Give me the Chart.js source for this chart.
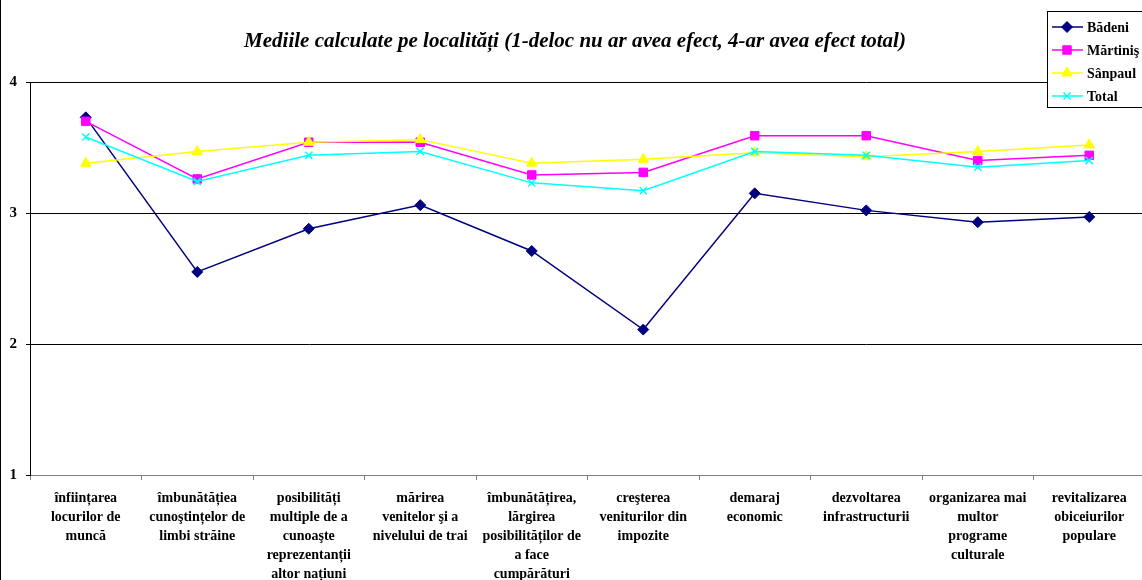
<!DOCTYPE html>
<html lang="ro">
<head>
<meta charset="UTF-8">
<title>Mediile calculate pe localități</title>
<script src="https://cdn.jsdelivr.net/npm/chart.js"></script>
<style>
    html, body { margin: 0; padding: 0; background: #fff; overflow: hidden; }
    #wrap { position: relative; width: 1152px; height: 580px; }
</style>
</head>
<body>
<div id="wrap"><canvas id="chart"></canvas></div>
<script>
// categorii (etichete pe mai multe randuri)
var categorii = [
    ['înființarea', 'locurilor de', 'muncă'],
    ['îmbunătățiea', 'cunoştințelor de', 'limbi străine'],
    ['posibilități', 'multiple de a', 'cunoaşte', 'reprezentanții', 'altor națiuni'],
    ['mărirea', 'venitelor şi a', 'nivelului de trai'],
    ['îmbunătățirea,', 'lărgirea', 'posibilităților de', 'a face', 'cumpărături'],
    ['creşterea', 'veniturilor din', 'impozite'],
    ['demaraj', 'economic'],
    ['dezvoltarea', 'infrastructurii'],
    ['organizarea mai', 'multor', 'programe', 'culturale'],
    ['revitalizarea', 'obiceiurilor', 'populare']
];

var badeni   = [3.73, 2.55, 2.88, 3.06, 2.71, 2.11, 3.15, 3.02, 2.93, 2.97];
var martinis = [3.70, 3.26, 3.54, 3.54, 3.29, 3.31, 3.59, 3.59, 3.40, 3.44];
var sanpaul  = [3.38, 3.47, 3.54, 3.56, 3.38, 3.41, 3.46, 3.43, 3.47, 3.52];
var total    = [3.58, 3.24, 3.44, 3.47, 3.23, 3.17, 3.47, 3.44, 3.35, 3.40];

var yTicks = [1, 2, 3, 4];

var titlu = 'Mediile calculate pe localități (1-deloc nu ar avea efect, 4-ar avea efect total)';

var serif = '"Liberation Serif", "Times New Roman", serif';

// titlu, chenar si legenda desenate direct pe canvas
var decor = {
    id: 'decor',
    afterDraw: function(chart) {
        var ctx = chart.ctx;
        ctx.save();
        // chenarul din stanga
        ctx.strokeStyle = '#000';
        ctx.lineWidth = 1;
        ctx.beginPath();
        ctx.moveTo(0.5, 0);
        ctx.lineTo(0.5, 580);
        ctx.stroke();

        // titlu
        ctx.fillStyle = '#000';
        ctx.font = 'italic bold 21px ' + serif;
        ctx.textAlign = 'center';
        ctx.textBaseline = 'middle';
        ctx.fillText(titlu, 575, 42);

        // legenda
        ctx.fillStyle = '#fff';
        ctx.fillRect(1047.5, 11.5, 110, 96);
        ctx.strokeStyle = '#000';
        ctx.strokeRect(1047.5, 11.5, 110, 96);
        ctx.font = 'bold 14px ' + serif;
        ctx.textAlign = 'left';
        var ys = [27, 50, 73, 96];
        var ds = chart.data.datasets;
        for (var i = 0; i < ds.length; i++) {
            var d = ds[i];
            var y = ys[i];
            ctx.strokeStyle = d.borderColor;
            ctx.lineWidth = 1.5;
            ctx.beginPath();
            ctx.moveTo(1052, y);
            ctx.lineTo(1083, y);
            ctx.stroke();
            ctx.fillStyle = d.pointBackgroundColor;
            ctx.strokeStyle = d.pointBorderColor;
            ctx.lineWidth = d.pointBorderWidth;
            Chart.helpers.drawPoint(ctx, {pointStyle: d.pointStyle, radius: d.pointRadius, rotation: 0, borderWidth: d.pointBorderWidth}, 1067, y);
            ctx.fillStyle = '#000';
            ctx.fillText(d.label, 1087, y + 1);
        }
        ctx.restore();
    }
};

new Chart(document.getElementById('chart'), {
    type: 'line',
    data: {
        labels: categorii,
        datasets: [{
            label: 'Bădeni',
            data: badeni,
            borderColor: '#000080',
            borderWidth: 1.5,
            pointStyle: 'rectRot',
            pointRadius: 5.5,
            pointBackgroundColor: '#000080',
            pointBorderColor: '#000080',
            pointBorderWidth: 1,
            order: 3
        }, {
            label: 'Mărtiniş',
            data: martinis,
            borderColor: '#ff00ff',
            borderWidth: 1.5,
            pointStyle: 'rect',
            pointRadius: 6,
            pointBackgroundColor: '#ff00ff',
            pointBorderColor: '#ff00ff',
            pointBorderWidth: 1,
            order: 2
        }, {
            label: 'Sânpaul',
            data: sanpaul,
            borderColor: '#ffff00',
            borderWidth: 1.5,
            pointStyle: 'triangle',
            pointRadius: 6,
            pointBackgroundColor: '#ffff00',
            pointBorderColor: '#ffff00',
            pointBorderWidth: 1,
            order: 1
        }, {
            label: 'Total',
            data: total,
            borderColor: '#00ffff',
            borderWidth: 1.5,
            pointStyle: 'crossRot',
            pointRadius: 5,
            pointBackgroundColor: '#00ffff',
            pointBorderColor: '#00ffff',
            pointBorderWidth: 1.5,
            order: 0
        }]
    },
    options: {
        responsive: true,
        maintainAspectRatio: false,
        animation: false,
        layout: { padding: { top: 82, right: 2, left: 0, bottom: 0 } },
        plugins: {
            legend: { display: false },
            title: { display: false },
            tooltip: { enabled: false }
        },
        scales: {
            x: {
                offset: true,
                grid: {
                    offset: true,
                    drawOnChartArea: false,
                    drawTicks: true,
                    tickLength: 5,
                    color: '#808080'
                },
                border: { color: '#808080', width: 1 },
                ticks: {
                    autoSkip: false,
                    maxRotation: 0,
                    minRotation: 0,
                    padding: 9,
                    color: '#000',
                    font: { family: serif, size: 14, weight: 'bold', lineHeight: 1.36 }
                },
                afterFit: function(scale) { scale.height = 105; }
            },
            y: {
                min: 1,
                max: 4,
                afterBuildTicks: function(scale) {
                    scale.ticks = yTicks.map(function(v) { return { value: v }; });
                },
                grid: { color: '#000', lineWidth: 1, tickLength: 4 },
                border: { color: '#000', width: 1 },
                ticks: {
                    padding: 9,
                    color: '#000',
                    font: { family: serif, size: 15, weight: 'bold' }
                },
                afterFit: function(scale) { scale.width = 30; }
            }
        }
    },
    plugins: [decor]
});
</script>
</body>
</html>
